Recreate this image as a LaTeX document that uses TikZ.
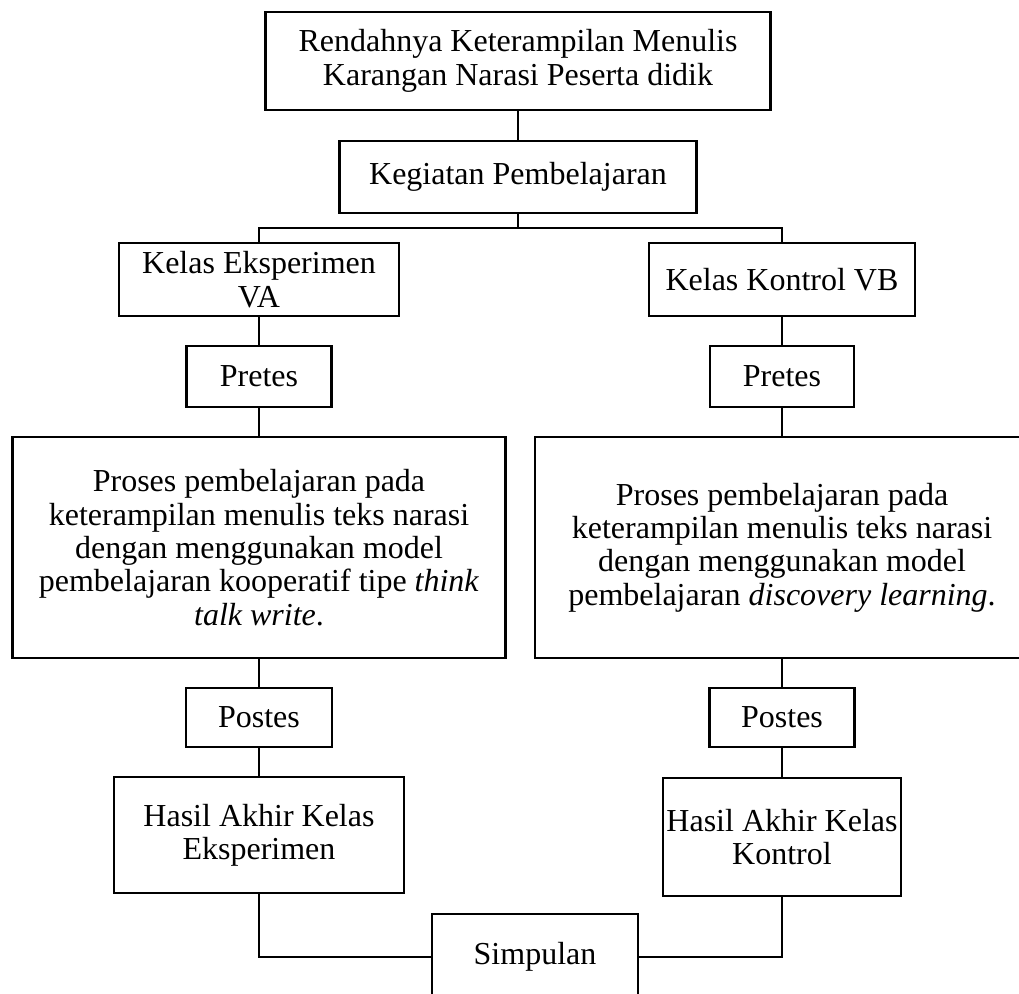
\documentclass[tikz,border=0pt]{standalone}
\usepackage{fontspec}
\setmainfont{Liberation Serif}
\usepackage{tikz}
\tikzstyle{kotak} = [draw, line width=1.8pt, align=center, inner sep=0pt, font=\fontsize{24}{25}\selectfont]
\tikzstyle{garis} = [line width=1.8pt]

\begin{document}
\begin{tikzpicture}[x=0.75pt, y=-0.75pt]
   \useasboundingbox (0,0) rectangle (1019,994);

   % Masalah dan kegiatan
   \node[kotak, minimum width=378.75pt, minimum height=73.5pt] (masalah) at (518,61) {Rendahnya Keterampilan Menulis\\Karangan Narasi Peserta didik};
   \node[kotak, minimum width=267.75pt, minimum height=54pt] (kegiatan) at (518,177) {Kegiatan Pembelajaran};

   % Kelas eksperimen
   \node[kotak, minimum width=210pt, minimum height=54.75pt] (eksp) at (259,279.5) {Kelas Eksperimen\\VA};
   \node[kotak, minimum width=108.75pt, minimum height=45.75pt] (pretesA) at (259,376.5) {Pretes};
   \node[kotak, minimum width=369.75pt, minimum height=165.75pt] (prosesA) at (259,547.5) {Proses pembelajaran pada\\keterampilan menulis teks narasi\\dengan menggunakan model\\pembelajaran kooperatif tipe \textit{think}\\\textit{talk write}.};
   \node[kotak, minimum width=109.5pt, minimum height=44.25pt] (postesA) at (259,717.5) {Postes};
   \node[kotak, minimum width=217.5pt, minimum height=87pt] (hasilA) at (259,835) {Hasil Akhir Kelas\\Eksperimen};

   % Kelas kontrol
   \node[kotak, minimum width=199.5pt, minimum height=54.75pt] (kontrol) at (782,279.5) {Kelas Kontrol VB};
   \node[kotak, minimum width=108pt, minimum height=45.75pt] (pretesB) at (782,376.5) {Pretes};
   \node[kotak, minimum width=370.5pt, minimum height=165.75pt] (prosesB) at (782,547.5) {Proses pembelajaran pada\\keterampilan menulis teks narasi\\dengan menggunakan model\\pembelajaran \textit{discovery learning}.};
   \node[kotak, minimum width=108.75pt, minimum height=44.25pt] (postesB) at (782,717.5) {Postes};
   \node[kotak, minimum width=178.5pt, minimum height=88.5pt] (hasilB) at (782,837) {Hasil Akhir Kelas\\Kontrol};

   % Simpulan
   \node[kotak, minimum width=154.5pt, minimum height=64.5pt] (simpulan) at (535,957) {Simpulan};

   % Garis penghubung
   \coordinate (cabang) at (518,228);
   \draw[garis] (masalah) -- (kegiatan);
   \draw[garis] (kegiatan) -- (cabang);
   \draw[garis] (cabang) -| (eksp);
   \draw[garis] (cabang) -| (kontrol);
   \draw[garis] (eksp) -- (pretesA);
   \draw[garis] (pretesA) -- (prosesA);
   \draw[garis] (prosesA) -- (postesA);
   \draw[garis] (postesA) -- (hasilA);
   \draw[garis] (kontrol) -- (pretesB);
   \draw[garis] (pretesB) -- (prosesB);
   \draw[garis] (prosesB) -- (postesB);
   \draw[garis] (postesB) -- (hasilB);
   \draw[garis] (hasilA) |- (simpulan);
   \draw[garis] (hasilB) |- (simpulan);

\end{tikzpicture}
\end{document}
